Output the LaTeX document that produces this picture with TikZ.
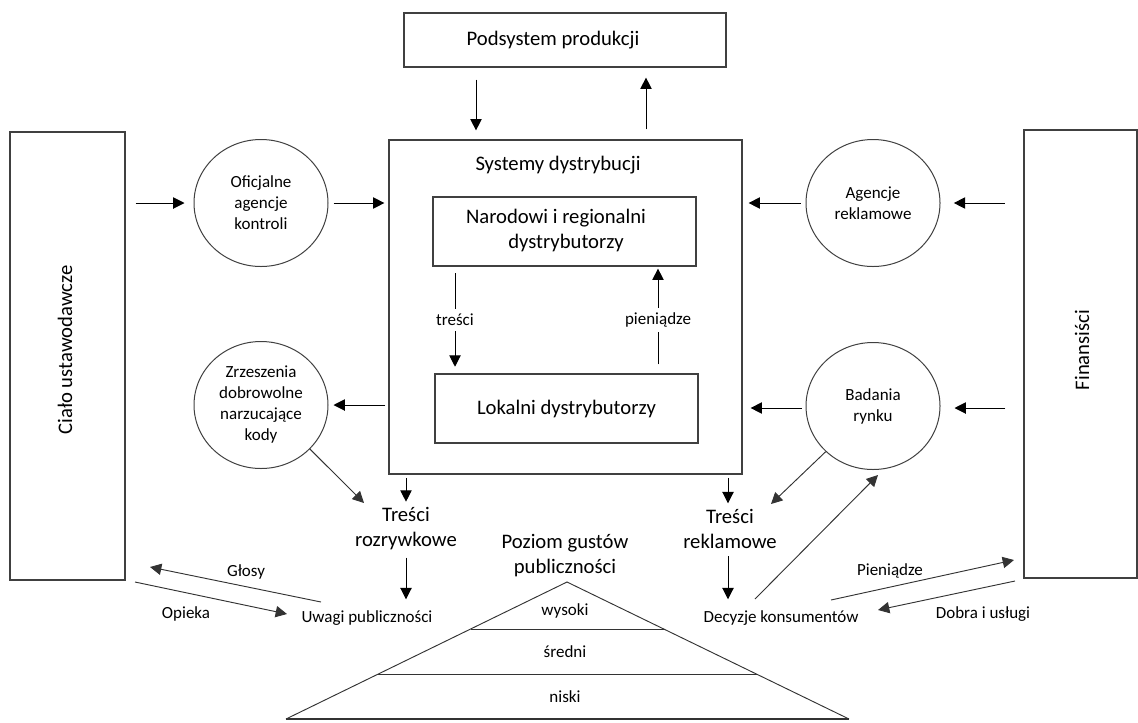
\documentclass[tikz,border=0pt]{standalone}
\usepackage{fontspec}
\setmainfont{Carlito}
\usetikzlibrary{arrows.meta,shapes.geometric,calc}
\begin{document}
\begin{tikzpicture}[x=0.75pt,y=-0.75pt,
  big/.style={font=\fontsize{15.5}{18.75}\selectfont},
  small/.style={font=\fontsize{12.75}{15.75}\selectfont},
  box/.style={draw=black!75, line width=0.9pt, inner sep=0pt, align=center},
  circ/.style={ellipse, draw=black!75, line width=0.75pt, minimum width=100.5pt, minimum height=95.25pt, inner sep=0pt, align=center, small},
  thin/.style={draw=black!80, line width=0.7pt},
  arr/.style={draw=black, line width=0.75pt, -{Triangle[length=8.5pt,width=8.5pt]}},
  gap/.style={shorten <=#1, shorten >=#1},
]
\useasboundingbox (0,0) rectangle (1138,722);

% main boxes
\node[box, minimum width=241.5pt, minimum height=40.5pt] (prod) at (565,40) {};
\node[big] (prodtxt) at (553,40) {Podsystem produkcji};
\node[box, minimum width=264.75pt, minimum height=250.5pt] (sys) at (565.5,307) {};
\node[big] (systxt) at (558,165) {Systemy dystrybucji};
\node[box, minimum width=197.25pt, minimum height=51.75pt] (nar) at (564.5,231.5) {};
\node[big, align=center] (nartxt) at (556,230) {Narodowi i regionalni\\\hspace*{15pt}dystrybutorzy};
\node[box, big, minimum width=197.25pt, minimum height=51.75pt] (lok) at (566.5,408.5) {Lokalni dystrybutorzy};
\node[box, minimum width=86.25pt, minimum height=336pt] (cialo) at (67.5,356) {};
\node[big, rotate=90] (cialotxt) at (65,350) {Ciało ustawodawcze};
\node[box, minimum width=84.75pt, minimum height=336pt] (fin) at (1080.5,354) {};
\node[big, rotate=90] (fintxt) at (1082,350) {Finansiści};

% circles
\node[circ] (ofi) at (261,203) {Oficjalne\\agencje\\kontroli};
\node[circ] (zrz) at (261,405) {Zrzeszenia\\dobrowolne\\narzucające\\kody};
\node[circ] (age) at (873,203) {Agencje\\reklamowe};
\node[circ] (bad) at (873,406) {Badania\\rynku};

% lower texts
\node[big, align=center] (trr) at (406,529) {Treści\\rozrywkowe};
\node[big, align=center] (trk) at (730,529) {Treści\\reklamowe};
\node[big, align=center] (poz) at (565,556) {Poziom gustów\\publiczności};
\node[small] (uwagi) at (367,618) {Uwagi publiczności};
\node[small] (decyzje) at (781,618) {Decyzje konsumentów};
\node[small] (glosy) at (246,572) {Głosy};
\node[small] (opieka) at (186,614) {Opieka};
\node[small] (pien) at (890,571) {Pieniądze};
\node[small] (dobra) at (983,614) {Dobra i usługi};

% pyramid
\coordinate (pt) at (567,582);
\coordinate (pl) at (286,719);
\coordinate (pr) at (849,719);
\draw[thin] (pl) -- (pt) -- (pr);
\draw[draw=black!80, line width=1.1pt] (pl) -- (pr);
\draw[thin] ($(pt)!0.343!(pl)$) -- ($(pt)!0.343!(pr)$);
\draw[thin] ($(pt)!0.672!(pl)$) -- ($(pt)!0.672!(pr)$);
\node[small] (wys) at (565,611) {wysoki};
\node[small] (sre) at (565,652) {średni};
\node[small] (nis) at (565,697) {niski};

% arrows top
\draw[arr, shorten <=9pt, shorten >=6.75pt] (476,0 |- prod.south) -- (476,0 |- sys.north);
\draw[arr, gap=7.5pt] (646,0 |- sys.north) -- (646,0 |- prod.south);

% inner arrows
\draw[arr, gap=5pt] (455,0 |- nar.south) -- node[small, fill=white, inner sep=3.5pt] (tresci) {treści} (455,0 |- lok.north);
\draw[arr, shorten <=6.75pt, shorten >=1.5pt] (658,0 |- lok.north) -- node[small, fill=white, inner sep=3.5pt] (pieniadze) {pieniądze} (658,0 |- nar.south);

% left side
\draw[arr, shorten <=7.5pt, shorten >=6.75pt] (cialo.east |- ofi) -- (ofi.west);
\draw[arr, shorten <=3.75pt, shorten >=3pt] (ofi.east) -- (sys.west |- ofi);
\draw[arr, shorten <=2.25pt, shorten >=3.75pt] (sys.west |- zrz) -- (zrz.east);

% right side
\draw[arr, shorten <=3.75pt, shorten >=4.5pt] (age.west) -- (sys.east |- age);
\draw[arr, shorten <=14pt, shorten >=10pt] (fin.west |- age) -- (age.east);
\draw[arr, shorten <=3pt, shorten >=6pt] (bad.west |- 0,408) -- (sys.east |- 0,408);
\draw[arr, shorten <=13.5pt, shorten >=10.5pt] (fin.west |- 0,408) -- (bad.east |- 0,408);

% bottom arrows
\coordinate (zrzend) at (364,503);
\draw[arr, thin] (zrz.-42) -- (zrzend);
\draw[arr, shorten <=2.5pt, shorten >=1pt] (406,0 |- sys.south) -- (trr.north);
\draw[arr, shorten <=2pt, shorten >=5pt] (trr.south) -- (uwagi.north -| trr);
\draw[arr, shorten <=2.5pt, shorten >=1pt] (728,0 |- sys.south) -- (728,0 |- trk.north);
\draw[arr, shorten <=2pt, shorten >=5pt] (728,0 |- trk.south) -- (728,0 |- decyzje.north);

\coordinate (badend) at (771,504);
\draw[arr, thin] (bad.224) -- (badend);
\coordinate (decstart) at (755,599);
\coordinate (badtip) at (878,475);
\draw[arr, thin] (decstart) -- (badtip);

\coordinate (gs) at (321,602);
\coordinate (ge) at (150,567);
\draw[arr, thin] (gs) -- (ge);
\coordinate (os) at (135,582);
\coordinate (oe) at (287,614);
\draw[arr, thin] (os) -- (oe);
\coordinate (ps) at (831,600);
\coordinate (pe) at (1014,560);
\draw[arr, thin] (ps) -- (pe);
\coordinate (ds) at (1015,581);
\coordinate (de) at (878,610);
\draw[arr, thin] (ds) -- (de);
\end{tikzpicture}
\end{document}
